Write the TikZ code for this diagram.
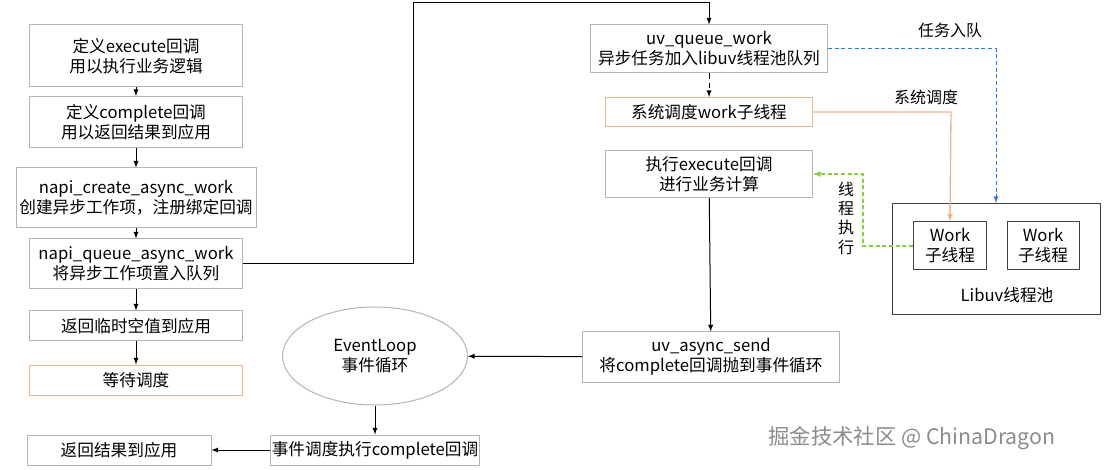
\documentclass[tikz,border=0pt]{standalone}
\usepackage{fontspec}
\setmainfont{Noto Sans CJK SC}
\usetikzlibrary{shapes.geometric}
\definecolor{boxgray}{RGB}{180,180,180}
\definecolor{boxorange}{RGB}{240,180,140}
\definecolor{linkblue}{RGB}{40,120,230}
\definecolor{linkgreen}{RGB}{130,210,60}
\tikzset{every picture/.style={line width=0.75pt}}
\tikzset{
flowbox/.style={draw=boxgray, fill=white, align=center, inner sep=0pt, font=\fontsize{12.5}{15}\selectfont},
waitbox/.style={flowbox, draw=boxorange},
poolbox/.style={draw=black!75, align=center, inner sep=0pt, font=\fontsize{12.5}{15}\selectfont},
tag/.style={font=\fontsize{12}{14.5}\selectfont, align=center},
arr/.style={-latex, black}
}

\begin{document}
\begin{tikzpicture}[x=0.75pt,y=0.75pt,yscale=-1,xscale=1]

\useasboundingbox (0,0) rectangle (1114,470);

% LEFT COLUMN

\node [flowbox, minimum width=0.75*213pt, minimum height=0.75*62pt] (exec) at (136,56) {定义execute回调\\用以执行业务逻辑};
\node [flowbox, minimum width=0.75*213pt, minimum height=0.75*51pt] (compl) at (136,122) {定义complete回调\\用以返回结果到应用};
\node [flowbox, minimum width=0.75*240pt, minimum height=0.75*60pt] (create) at (136,198) {napi\_create\_async\_work\\创建异步工作项，注册绑定回调};
\node [flowbox, minimum width=0.75*213pt, minimum height=0.75*50pt] (queue) at (136,264) {napi\_queue\_async\_work\\将异步工作项置入队列};
\node [flowbox, minimum width=0.75*213pt, minimum height=0.75*30pt] (ret) at (136,326) {返回临时空值到应用};
\node [waitbox, minimum width=0.75*213pt, minimum height=0.75*30pt] (wait) at (136,380) {等待调度};
\node [flowbox, minimum width=0.75*184pt, minimum height=0.75*30pt] (result) at (119,450) {返回结果到应用};

% BOTTOM

\node [ellipse, draw=boxgray, fill=white, minimum width=0.75*185pt, minimum height=0.75*98pt, align=center,
       font=\fontsize{12.5}{15}\selectfont] (loop) at (375,356) {EventLoop\\事件循环};
\node [flowbox, minimum width=0.75*209pt, minimum height=0.75*30pt] (run) at (375,450) {事件调度执行complete回调};

% RIGHT COLUMN

\node [flowbox, minimum width=0.75*237pt, minimum height=0.75*48pt] (uvq) at (709,49) {uv\_queue\_work\\异步任务加入libuv线程池队列};
\node [waitbox, minimum width=0.75*207pt, minimum height=0.75*29pt] (sched) at (709,112) {系统调度work子线程};
\node [flowbox, minimum width=0.75*207pt, minimum height=0.75*47pt] (calc) at (709,174) {执行execute回调\\进行业务计算};
\node [flowbox, minimum width=0.75*257pt, minimum height=0.75*50pt] (send) at (711,357) {uv\_async\_send\\将complete回调抛到事件循环};

% THREAD POOL

\node [poolbox, minimum width=0.75*208pt, minimum height=0.75*111pt] (pool) at (996,259) {};
\node [poolbox, minimum width=0.75*73pt, minimum height=0.75*48pt] (w1) at (950,246) {Work\\子线程};
\node [poolbox, minimum width=0.75*72pt, minimum height=0.75*48pt] (w2) at (1043,246) {Work\\子线程};
\node [tag, font=\fontsize{12.5}{15}\selectfont] (poolname) at (1007,295) {Libuv线程池};

% EDGES

\draw [arr] (exec) -- (compl);
\draw [arr] (compl) -- (create);
\draw [arr] (create) -- (queue);
\draw [arr] (queue) -- (ret);
\draw [arr] (ret) -- (wait);
\draw [arr] (queue.east) -- (413,264) -- (413,3) -- (709,3) -- (uvq.north);
\draw [arr, dash pattern={on 4pt off 3pt}] (uvq) -- (sched);
\draw [arr] (calc) -- (send);
\draw [arr] (send) -- (loop);
\draw [arr] (loop) -- (run);
\draw [arr] (run) -- (result);

\draw [-latex, linkblue, dash pattern={on 3pt off 2pt}] (uvq.east) -- (996,49) -- (pool.north);
\draw [-latex, boxorange, line width=1pt] (sched.east) -- (951,112) -- (w1.north);
\draw [-latex, linkgreen, line width=1pt, dash pattern={on 3pt off 2pt}] (w1.west) -- (863,246) -- (863,174) -- (calc.east);

% LABELS

\node [tag] (lblq) at (950,30) {任务入队};
\node [tag] (lbls) at (926,97) {系统调度};
\node [tag, text width=13] (lblt) at (846,218) {线\\程\\执\\行};
\node [tag, text=black!45, font=\fontsize{16}{18}\selectfont] (mark) at (912,438) {掘金技术社区 @ ChinaDragon};

\end{tikzpicture}
\end{document}
